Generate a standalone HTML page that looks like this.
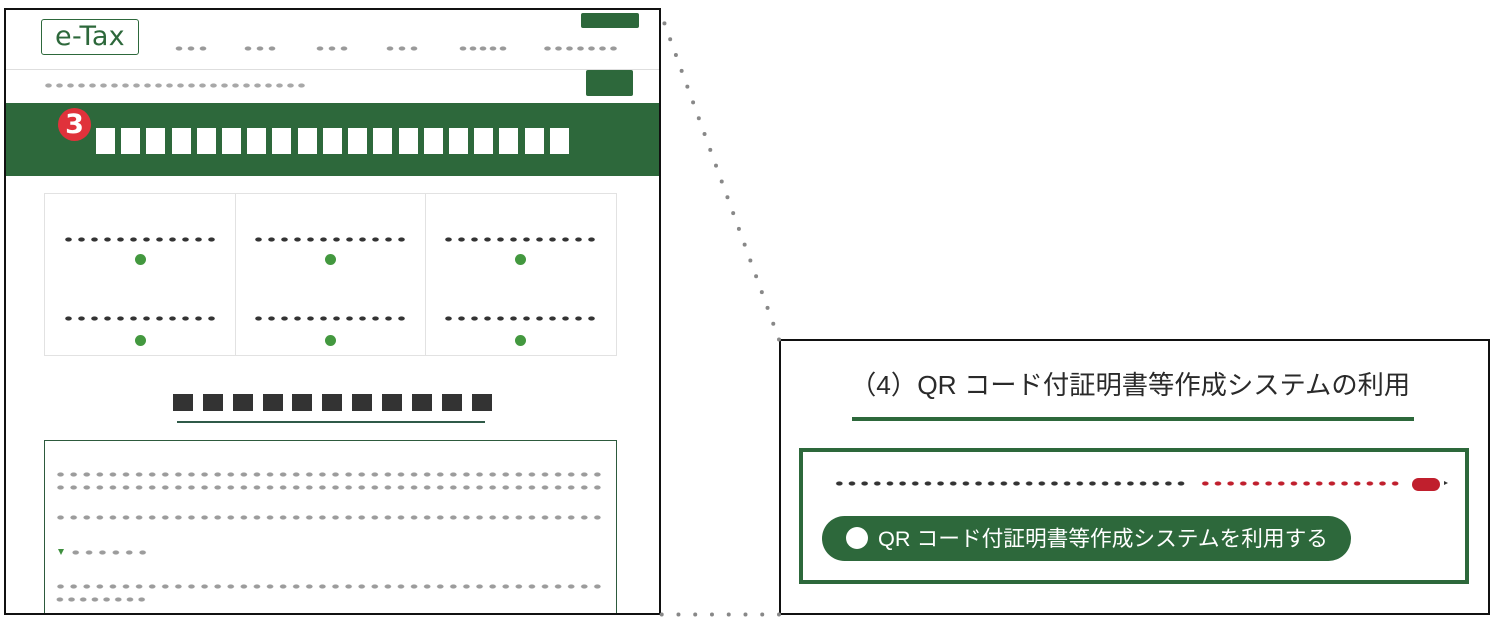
<!DOCTYPE html>
<html><head><meta charset="utf-8"><style>
html,body{margin:0;padding:0;background:#fff;}
body{width:1497px;height:629px;position:relative;overflow:hidden;font-family:"Liberation Sans","Noto Sans CJK JP",sans-serif;}
.a{position:absolute;box-sizing:border-box;}
.dt{position:absolute;height:5px;background-repeat:repeat-x;background-size:var(--p) 5px;background-image:radial-gradient(3.6px 2.3px at 50% 50%, var(--c) 0%, var(--c) 80%, rgba(255,255,255,0) 100%);}
.g{background:#2d683b;}
</style></head><body>

<!-- LEFT FRAME CONTENT -->
<div class="a" style="left:41px;top:19px;width:98px;height:36px;border:1.5px solid #2d683b;border-radius:3px;color:#2d683b;font-size:27px;line-height:33px;text-align:center;letter-spacing:0.3px;font-family:'DejaVu Sans','Liberation Sans',sans-serif;">e-Tax</div>

<div class="dt" style="left:173px;top:46px;width:36px;--p:12px;--c:#9a9a9a;"></div>
<div class="dt" style="left:242px;top:46px;width:36px;--p:12px;--c:#9a9a9a;"></div>
<div class="dt" style="left:314px;top:46px;width:36px;--p:12px;--c:#9a9a9a;"></div>
<div class="dt" style="left:384px;top:46px;width:36px;--p:12px;--c:#9a9a9a;"></div>
<div class="dt" style="left:458px;top:46px;width:50px;--p:10px;--c:#9a9a9a;"></div>
<div class="dt" style="left:542px;top:46px;width:77px;--p:11px;--c:#9a9a9a;"></div>

<div class="a g" style="left:581px;top:13px;width:58px;height:15px;border-radius:2px;"></div>
<div class="a" style="left:5px;top:69px;width:654px;height:1px;background:#dedede;"></div>
<div class="dt" style="left:43px;top:83px;width:264px;--p:11px;--c:#a8a8a8;"></div>
<div class="a g" style="left:586px;top:70px;width:47px;height:26px;border-radius:2px;"></div>

<div class="a g" style="left:5px;top:103px;width:654px;height:73px;"></div>
<div class="a" style="left:58px;top:108px;width:33px;height:33px;border-radius:50%;background:#e0323b;color:#fff;font-weight:bold;font-size:27px;line-height:33px;text-align:center;font-family:'DejaVu Sans','Liberation Sans',sans-serif;">3</div>

<div class="a" style="left:96px;top:128px;width:19px;height:26px;background:#fff;"></div>
<div class="a" style="left:121px;top:128px;width:19px;height:26px;background:#fff;"></div>
<div class="a" style="left:146px;top:128px;width:19px;height:26px;background:#fff;"></div>
<div class="a" style="left:172px;top:128px;width:19px;height:26px;background:#fff;"></div>
<div class="a" style="left:197px;top:128px;width:19px;height:26px;background:#fff;"></div>
<div class="a" style="left:222px;top:128px;width:19px;height:26px;background:#fff;"></div>
<div class="a" style="left:247px;top:128px;width:19px;height:26px;background:#fff;"></div>
<div class="a" style="left:272px;top:128px;width:19px;height:26px;background:#fff;"></div>
<div class="a" style="left:298px;top:128px;width:19px;height:26px;background:#fff;"></div>
<div class="a" style="left:323px;top:128px;width:19px;height:26px;background:#fff;"></div>
<div class="a" style="left:348px;top:128px;width:19px;height:26px;background:#fff;"></div>
<div class="a" style="left:373px;top:128px;width:19px;height:26px;background:#fff;"></div>
<div class="a" style="left:399px;top:128px;width:19px;height:26px;background:#fff;"></div>
<div class="a" style="left:424px;top:128px;width:19px;height:26px;background:#fff;"></div>
<div class="a" style="left:449px;top:128px;width:19px;height:26px;background:#fff;"></div>
<div class="a" style="left:474px;top:128px;width:19px;height:26px;background:#fff;"></div>
<div class="a" style="left:499px;top:128px;width:19px;height:26px;background:#fff;"></div>
<div class="a" style="left:525px;top:128px;width:19px;height:26px;background:#fff;"></div>
<div class="a" style="left:550px;top:128px;width:19px;height:26px;background:#fff;"></div>

<!-- cards -->
<div class="a" style="left:44px;top:193px;width:573px;height:163px;border:1px solid #e2e2e2;"></div>
<div class="a" style="left:235px;top:193px;width:1px;height:163px;background:#e2e2e2;"></div>
<div class="a" style="left:425px;top:193px;width:1px;height:163px;background:#e2e2e2;"></div>

<div class="dt" style="left:61.5px;top:236.5px;width:156px;--p:13px;--c:#333;"></div>
<div class="dt" style="left:251.5px;top:236.5px;width:156px;--p:13px;--c:#333;"></div>
<div class="dt" style="left:441.5px;top:236.5px;width:156px;--p:13px;--c:#333;"></div>
<div class="dt" style="left:61.5px;top:315.5px;width:156px;--p:13px;--c:#333;"></div>
<div class="dt" style="left:251.5px;top:315.5px;width:156px;--p:13px;--c:#333;"></div>
<div class="dt" style="left:441.5px;top:315.5px;width:156px;--p:13px;--c:#333;"></div>

<div class="a" style="left:134.5px;top:254px;width:11px;height:11px;border-radius:50%;background:#43983f;"></div>
<div class="a" style="left:324.5px;top:254px;width:11px;height:11px;border-radius:50%;background:#43983f;"></div>
<div class="a" style="left:514.5px;top:254px;width:11px;height:11px;border-radius:50%;background:#43983f;"></div>
<div class="a" style="left:134.5px;top:335px;width:11px;height:11px;border-radius:50%;background:#43983f;"></div>
<div class="a" style="left:324.5px;top:335px;width:11px;height:11px;border-radius:50%;background:#43983f;"></div>
<div class="a" style="left:514.5px;top:335px;width:11px;height:11px;border-radius:50%;background:#43983f;"></div>

<!-- squares -->
<div class="a" style="left:173px;top:394px;width:20px;height:17px;background:#333;"></div>
<div class="a" style="left:203px;top:394px;width:20px;height:17px;background:#333;"></div>
<div class="a" style="left:233px;top:394px;width:20px;height:17px;background:#333;"></div>
<div class="a" style="left:263px;top:394px;width:20px;height:17px;background:#333;"></div>
<div class="a" style="left:292px;top:394px;width:20px;height:17px;background:#333;"></div>
<div class="a" style="left:322px;top:394px;width:20px;height:17px;background:#333;"></div>
<div class="a" style="left:352px;top:394px;width:20px;height:17px;background:#333;"></div>
<div class="a" style="left:382px;top:394px;width:20px;height:17px;background:#333;"></div>
<div class="a" style="left:412px;top:394px;width:20px;height:17px;background:#333;"></div>
<div class="a" style="left:442px;top:394px;width:20px;height:17px;background:#333;"></div>
<div class="a" style="left:472px;top:394px;width:20px;height:17px;background:#333;"></div>
<div class="a" style="left:177px;top:421px;width:308px;height:1.5px;background:#2f5a48;"></div>

<!-- lower box -->
<div class="a" style="left:44px;top:440px;width:573px;height:175px;border:1px solid #2d5a3d;border-bottom:none;"></div>
<div class="dt" style="left:53.5px;top:471.5px;width:550.2px;--p:13.1px;--c:#9c9c9c;"></div>
<div class="dt" style="left:53.5px;top:484.5px;width:550.2px;--p:13.1px;--c:#9c9c9c;"></div>
<div class="dt" style="left:53.5px;top:515px;width:550.2px;--p:13.1px;--c:#9c9c9c;"></div>
<div class="a" style="left:58px;top:549px;width:0;height:0;border-left:3px solid transparent;border-right:3px solid transparent;border-top:6px solid #3e8f3e;"></div>
<div class="dt" style="left:69.3px;top:549.5px;width:80.4px;--p:13.4px;--c:#9c9c9c;"></div>
<div class="dt" style="left:53.5px;top:583.5px;width:550.2px;--p:13.1px;--c:#9c9c9c;"></div>
<div class="dt" style="left:54px;top:597px;width:93.6px;--p:11.7px;--c:#9c9c9c;"></div>

<!-- left frame border -->
<div class="a" style="left:4px;top:8px;width:657px;height:607px;border:2px solid #111;"></div>

<!-- RIGHT FRAME -->
<div class="a" style="left:779px;top:339px;width:711px;height:276px;border:2px solid #111;"></div>
<div class="a" style="left:850px;top:366px;white-space:nowrap;font-size:26.3px;line-height:38px;color:#2a2a2a;">（4）QR コード付証明書等作成システムの利用</div>
<div class="a" style="left:852px;top:417px;width:562px;height:4px;background:#2d683b;"></div>

<div class="a" style="left:799px;top:448px;width:670px;height:136px;border:4px solid #2d683b;"></div>
<div class="dt" style="left:832.7px;top:480.5px;width:354.7px;--p:12.67px;--c:#333;"></div>
<div class="dt" style="left:1198.7px;top:480.5px;width:202.7px;--p:12.67px;--c:#c01f2d;"></div>
<div class="a" style="left:1412px;top:478px;width:28px;height:13px;border-radius:7px;background:#c01f2d;"></div>
<div class="a" style="left:1444px;top:481px;width:0;height:0;border-top:2.5px solid transparent;border-bottom:2.5px solid transparent;border-left:4px solid #333;"></div>

<div class="a g" style="left:822px;top:516px;width:529px;height:45px;border-radius:23px;"></div>
<div class="a" style="left:846px;top:527px;width:22px;height:22px;border-radius:50%;background:#fff;"></div>
<div class="a" style="left:878px;top:516px;white-space:nowrap;font-size:21.7px;line-height:45px;color:#fff;">QR コード付証明書等作成システムを利用する</div>

<!-- connectors -->
<svg class="a" style="left:0;top:0;" width="1497" height="629" viewBox="0 0 1497 629">
  <line x1="779" y1="339.5" x2="664.3" y2="23" stroke="#888" stroke-width="4" stroke-linecap="round" stroke-dasharray="0 16.81"/>
  <line x1="661.7" y1="614.5" x2="779" y2="614.5" stroke="#888" stroke-width="4" stroke-linecap="round" stroke-dasharray="0 16.757"/>
</svg>
</body></html>
